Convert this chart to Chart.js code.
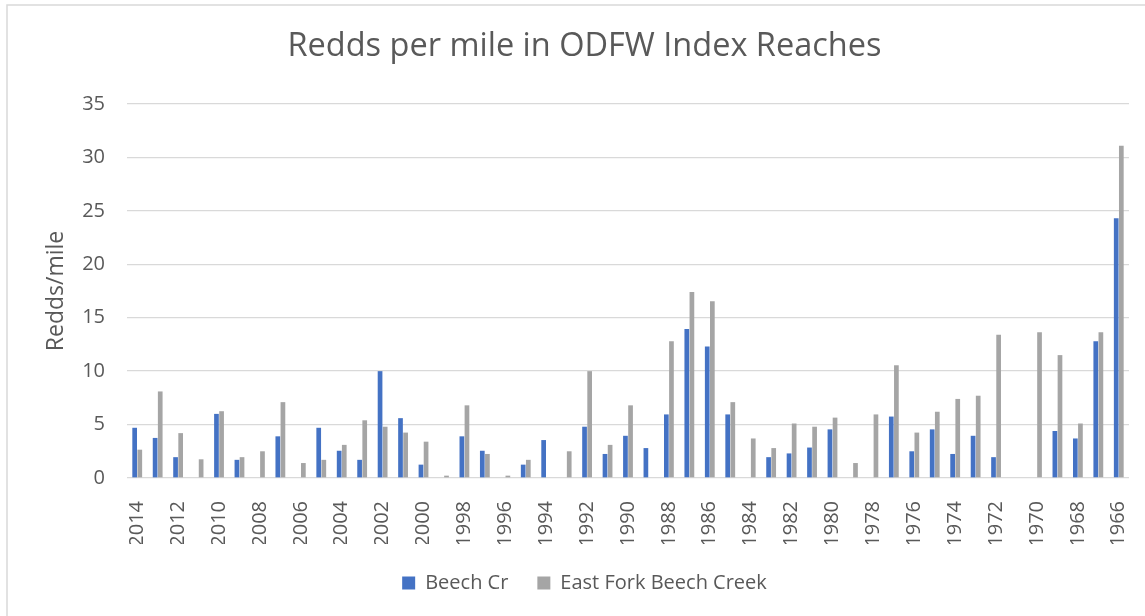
<!DOCTYPE html>
<html>
<head>
<meta charset="utf-8">
<script src="https://cdn.jsdelivr.net/npm/chart.js@4.4.1/dist/chart.umd.min.js"></script>
<style>
   html, body { margin: 0; padding: 0; background: #fff; }
   #wrap { width: 1145px; height: 616px; position: relative; }
</style>
</head>
<body>
<div id="wrap"><canvas id="chart-redds"></canvas></div>
<script>
// years shown from newest to oldest, like the source sheet
var years = [
   2014, 2013, 2012, 2011, 2010, 2009, 2008, 2007, 2006, 2005,
   2004, 2003, 2002, 2001, 2000, 1999, 1998, 1997, 1996, 1995,
   1994, 1993, 1992, 1991, 1990, 1989, 1988, 1987, 1986, 1985,
   1984, 1983, 1982, 1981, 1980, 1979, 1978, 1977, 1976, 1975,
   1974, 1973, 1972, 1971, 1970, 1969, 1968, 1967, 1966
];

var beechCr = [
   4.7, 3.75, 1.95, null, 6.0, 1.7, null, 3.9, null, 4.7,
   2.55, 1.7, 10.0, 5.6, 1.25, null, 3.9, 2.55, null, 1.25,
   3.55, null, 4.8, 2.25, 3.95, 2.8, 5.95, 13.95, 12.3, 5.95,
   null, 1.95, 2.3, 2.85, 4.55, null, null, 5.75, 2.5, 4.55,
   2.25, 3.95, 1.95, null, null, 4.4, 3.7, 12.8, 24.3
];

var eastFork = [
   2.65, 8.1, 4.2, 1.75, 6.25, 1.95, 2.5, 7.1, 1.4, 1.7,
   3.1, 5.4, 4.8, 4.25, 3.4, 0.22, 6.8, 2.25, 0.22, 1.7,
   null, 2.5, 10.0, 3.1, 6.8, null, 12.8, 17.4, 16.55, 7.1,
   3.7, 2.8, 5.1, 4.8, 5.65, 1.4, 5.95, 10.55, 4.25, 6.2,
   7.4, 7.7, 13.4, null, 13.65, 11.5, 5.1, 13.65, 31.1
];

var yTicks = [0, 5, 10, 15, 20, 25, 30, 35];

var textColor = "#595959";
var gridColor = "#d9d9d9";
var fontFam = "'Open Sans', 'Noto Sans', sans-serif";

// light frame of the chart object (left and top edge only visible)
var frame = {
   id: "frame",
   beforeDraw: function (chart) {
      var ctx = chart.ctx;
      ctx.save();
      ctx.strokeStyle = gridColor;
      ctx.lineWidth = 1.5;
      ctx.beginPath();
      ctx.moveTo(7, 616);
      ctx.lineTo(7, 5);
      ctx.lineTo(1145, 5);
      ctx.stroke();
      ctx.restore();
   },
};

var ctx = document.getElementById("chart-redds").getContext("2d");

new Chart(ctx, {
   type: "bar",
   plugins: [frame],
   data: {
      labels: years,
      datasets: [
         {
            label: "Beech Cr",
            data: beechCr,
            backgroundColor: "#4472C4",
            borderWidth: 0,
            barPercentage: 0.92,
            categoryPercentage: 0.5,
         },
         {
            label: "East Fork Beech Creek",
            data: eastFork,
            backgroundColor: "#A5A5A5",
            borderWidth: 0,
            barPercentage: 0.92,
            categoryPercentage: 0.5,
         },
      ],
   },
   options: {
      responsive: true,
      maintainAspectRatio: false,
      animation: false,
      layout: {
         padding: { left: 40, right: 16, top: 0, bottom: 13 },
      },
      plugins: {
         title: {
            display: true,
            text: "Redds per mile in ODFW Index Reaches",
            color: textColor,
            font: { family: fontFam, size: 32.5, weight: "normal", lineHeight: 1.2 },
            padding: { top: 27, bottom: 38 },
         },
         legend: {
            position: "bottom",
            labels: {
               color: textColor,
               boxWidth: 13,
               boxHeight: 13,
               padding: 29,
               font: { family: fontFam, size: 20 },
            },
         },
         tooltip: { enabled: false },
      },
      scales: {
         x: {
            grid: { display: false },
            border: { display: false },
            ticks: {
               autoSkip: false,
               minRotation: 90,
               maxRotation: 90,
               padding: 15,
               color: textColor,
               font: { family: fontFam, size: 20 },
               callback: function (val, i) {
                  return i % 2 === 0 ? this.getLabelForValue(val) : "";
               },
            },
            afterFit: function (scale) {
               scale.height = 66;
               scale.paddingRight = 0;
            },
         },
         y: {
            min: yTicks[0],
            max: yTicks[yTicks.length - 1],
            afterBuildTicks: function (scale) {
               scale.ticks = yTicks.map(function (v) { return { value: v }; });
            },
            grid: {
               color: gridColor,
               lineWidth: 1.3,
               drawTicks: false,
            },
            border: { display: false },
            ticks: {
               padding: 22,
               color: textColor,
               font: { family: fontFam, size: 20 },
            },
            title: {
               display: true,
               text: "Redds/mile",
               color: textColor,
               font: { family: fontFam, size: 23 },
               padding: { top: 3, bottom: 0 },
            },
            afterFit: function (scale) {
               scale.width = 87;
            },
         },
      },
   },
});
</script>
</body>
</html>
